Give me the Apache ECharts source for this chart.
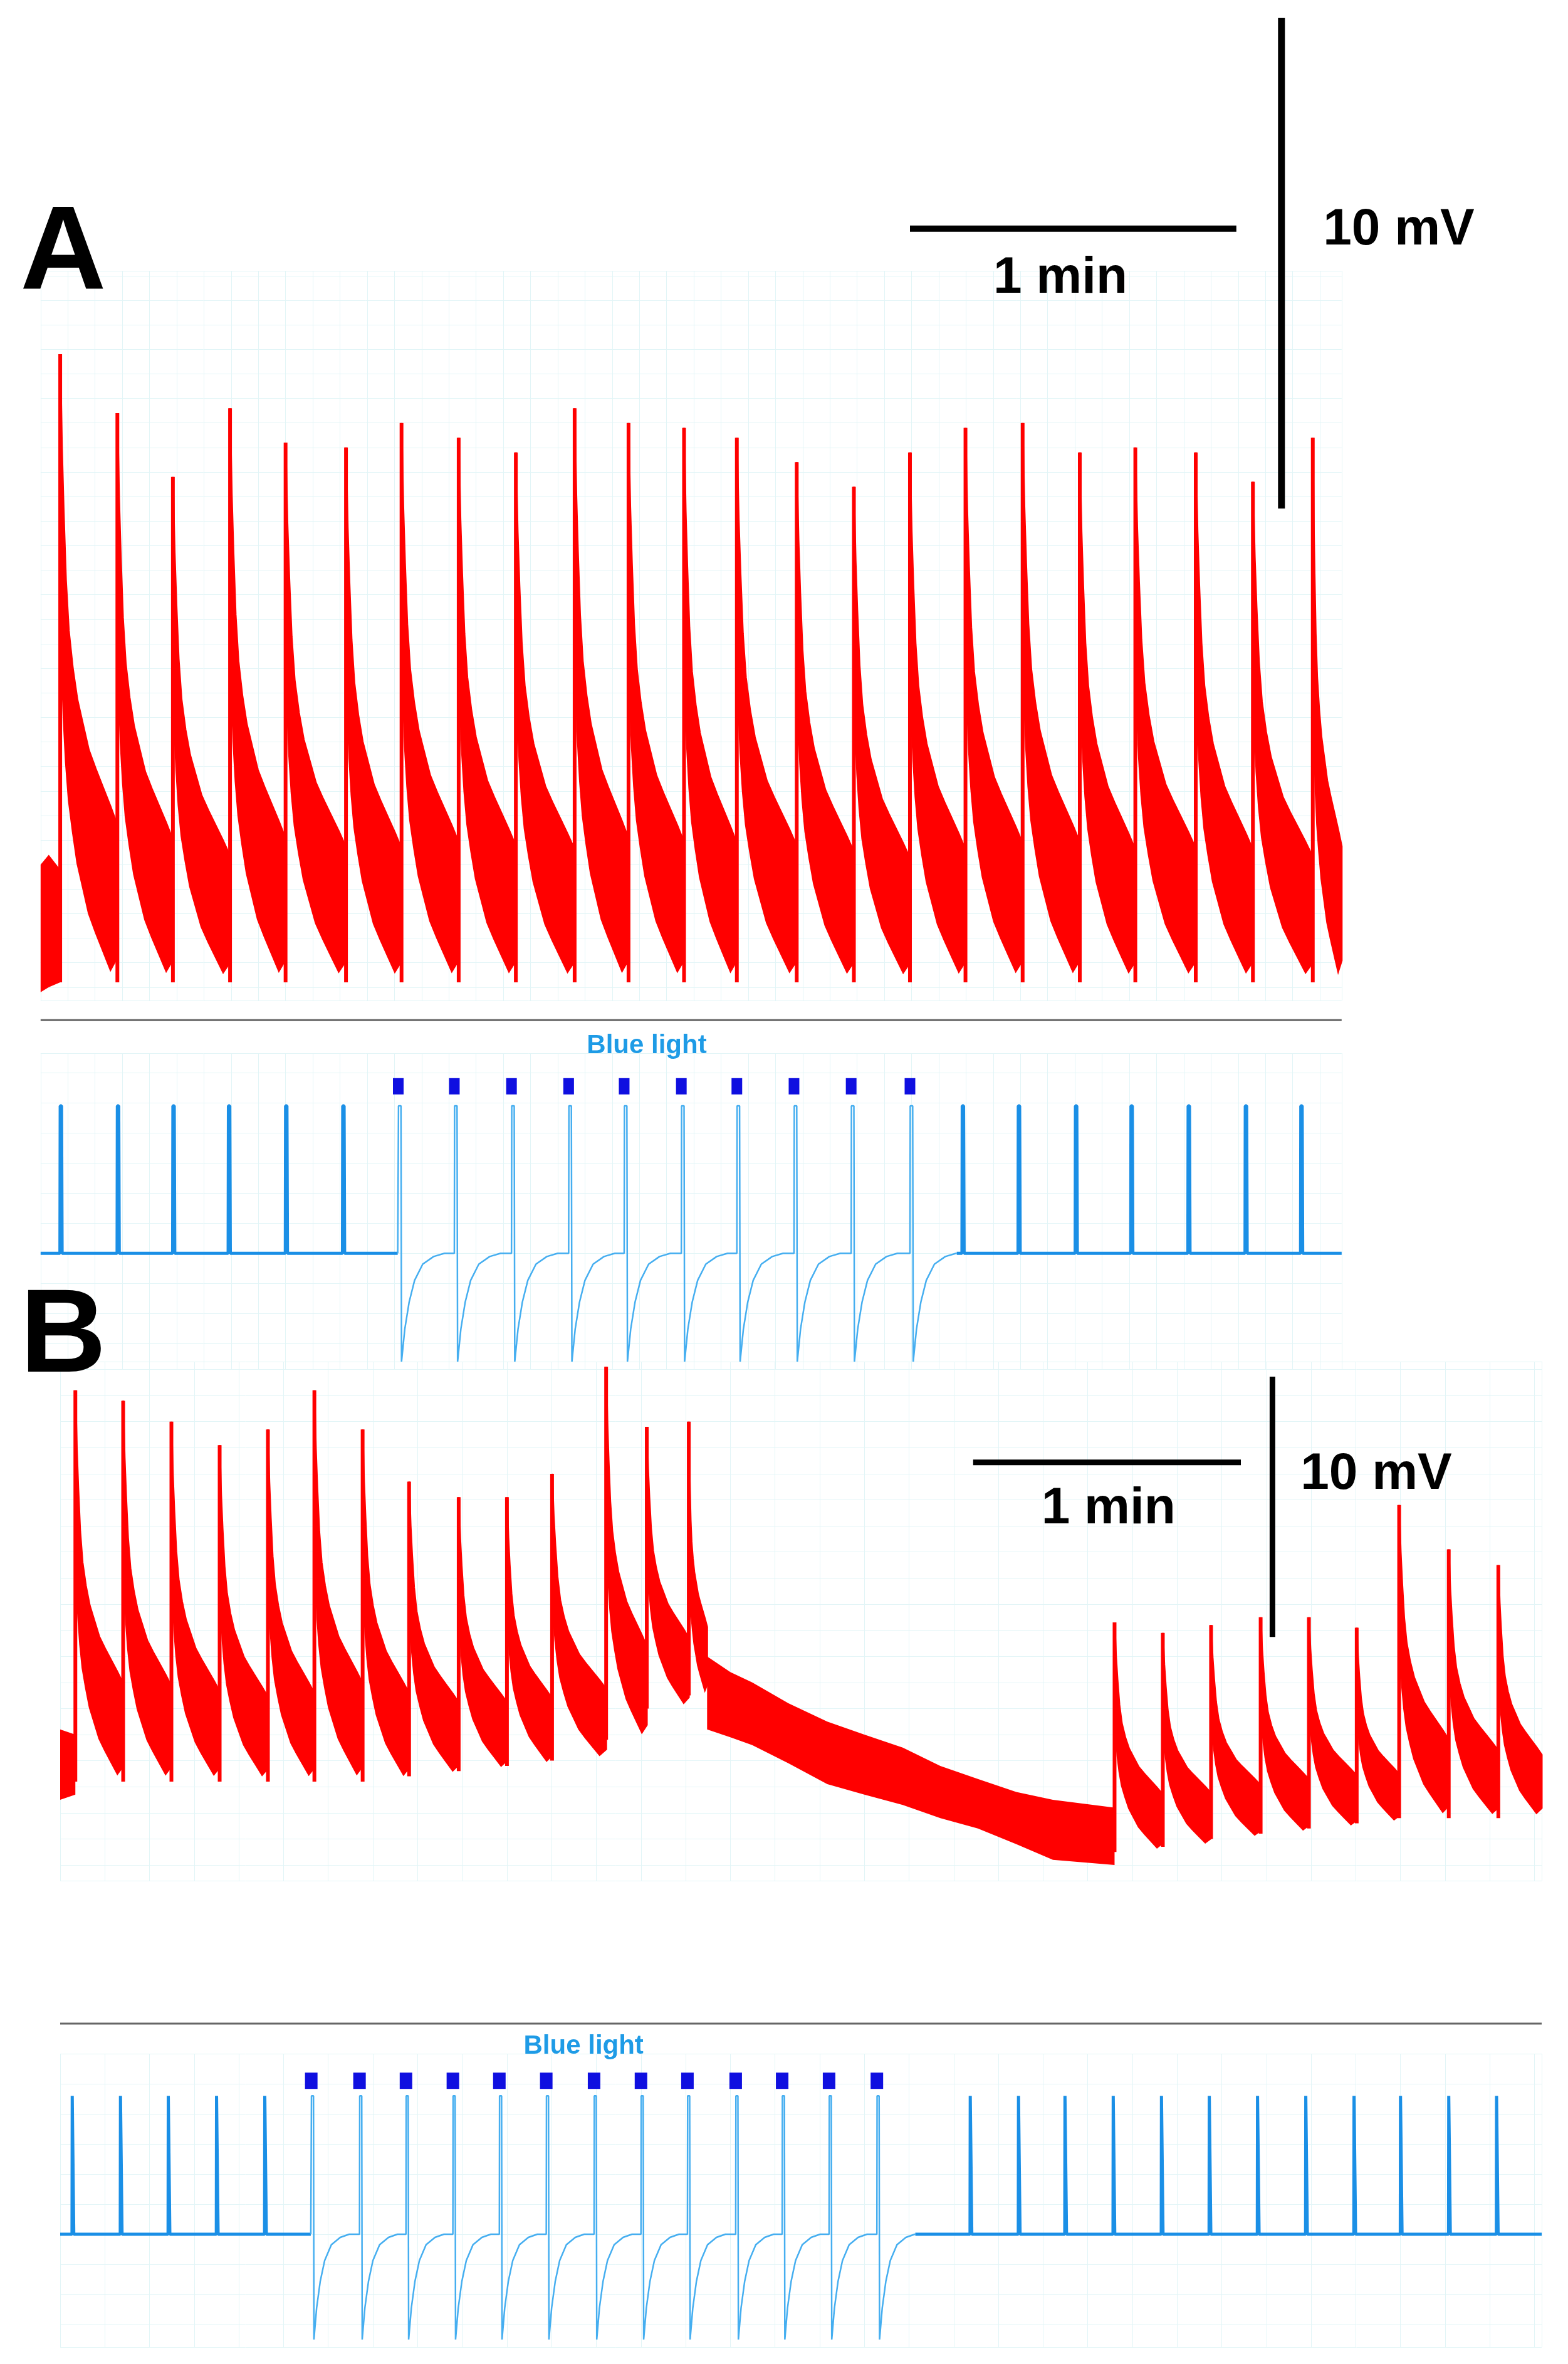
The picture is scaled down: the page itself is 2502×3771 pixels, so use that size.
<!DOCTYPE html>
<html><head><meta charset="utf-8">
<script src="https://cdn.jsdelivr.net/npm/echarts@6/dist/echarts.min.js"></script>
<style>html,body{margin:0;padding:0;background:#fff}#c{width:2502px;height:3771px}</style>
</head><body><div id="c"></div>
<script>
// ---------- Panel A data (time s, membrane mV relative) ----------
const A_END = 239;
const A_burstT = [3.6,14.1,24.3,34.8,45.0,56.1,66.3,76.8,87.3,98.1,108.0,118.2,127.9,138.9,149.4,159.7,169.9,180.4,190.9,201.1,212.2,222.7,233.7];
const A_burstPeak = [12.4,11.2,9.9,11.3,10.6,10.5,11.0,10.7,10.4,11.3,11.0,10.9,10.7,10.2,9.7,10.4,10.9,11.0,10.4,10.5,10.4,9.8,10.7];
const A_base = -0.4;
const A_preBand = [[0,2.0,-0.6],[1.5,2.2,-0.5],[3.6,1.9,-0.4]];
const A_spikePre = [3.6,14.1,24.3,34.5,45.0,55.5];
const A_spikeLight = [65.7,76.0,86.5,97.0,107.2,117.7,127.9,138.4,148.9,159.7];
const A_spikePost = [169.3,179.6,190.1,200.3,210.8,221.3,231.5];
// ---------- Panel B data ----------
const B_END = 331.6;
const B_burstT = [3.4,14.1,24.9,35.7,46.5,56.9,67.7,78.1,89.2,100.0,110.1,122.2,131.3,140.7];
const B_burstPeak = [14.2,13.8,13.0,12.1,12.7,14.2,12.7,10.7,10.1,10.1,11.0,15.1,12.8,13.0];
const B_burstBase = [-0.8,-0.8,-0.8,-0.8,-0.8,-0.8,-0.8,-0.6,-0.4,-0.2,0,0.8,2.0,2.5];
const B_drift = [[144.8,4.0,1.2],[150,3.4,0.9],[154.9,3.0,0.6],[163,2.2,-0.1],[171.7,1.5,-0.9],[180,1.0,-1.3],[188.6,0.5,-1.7],[197,-0.2,-2.2],[205.4,-0.7,-2.6],[214,-1.2,-3.2],[222.2,-1.5,-3.8],[236.0,-1.8,-4.0]];
const B_preBand = [[0,1.2,-1.5],[3.4,1.0,-1.3]];
const B_late = [236.0,246.8,257.6,268.7,279.5,290.2,299.7,310.8,321.9];
const B_latePeak = [5.3,4.9,5.2,5.5,5.5,5.1,9.8,8.1,7.5];
const B_lateBase = [-3.5,-3.3,-3.0,-2.8,-2.6,-2.4,-2.2,-2.2,-2.2];
const B_spikePre = [2.7,13.5,24.2,35.0,45.8];
const B_spikeLight = [56.2,67.0,77.4,87.9,98.3,108.8,119.5,130.0,140.4,151.2,161.6,172.1,182.8];
const B_spikePost = [203.7,214.5,224.9,235.7,246.5,257.2,268.0,278.8,289.6,300.0,310.8,321.5];
// burst envelope template (fraction of interval, fraction of amplitude)
const TPL_F = [0,0.01,0.03,0.06,0.1,0.15,0.22,0.3,0.4,0.5,0.62,0.75,0.88,1.0];
const TPL_U = [1.0,0.95,0.85,0.75,0.64,0.56,0.5,0.45,0.41,0.37,0.34,0.31,0.28,0.25];
const TPL_L = [0.1,0.55,0.5,0.42,0.35,0.29,0.24,0.19,0.15,0.11,0.08,0.05,0.02,0.04];
// light-evoked response template (s offset, value)
const LIGHT_T = [0,0.05,0.5,0.6,1.2,2.0,3.0,4.5,6.5,8.5];
const LIGHT_V = [0,1,1,-1,-0.7,-0.45,-0.25,-0.1,-0.03,0];

function burstItems(ts, peaks, bases, end){
  return ts.map((t,i)=>[t, i<ts.length-1?ts[i+1]:end, Array.isArray(bases)?bases[i]:bases, peaks[i]]);
}
function bandSeries(band, xi, yi){
  return {type:'custom', xAxisIndex:xi, yAxisIndex:yi, data:band, silent:true,
    renderItem:function(p, api){
      if(p.dataIndex!==0) return;
      const pts=[]; band.forEach(d=>pts.push(api.coord([d[0],d[1]])));
      for(let i=band.length-1;i>=0;i--) pts.push(api.coord([band[i][0],band[i][2]]));
      return {type:'polygon', shape:{points:pts}, style:{fill:'#ff0000'}};
    }};
}
function burstSeries(items, xi, yi){
  return {type:'custom', xAxisIndex:xi, yAxisIndex:yi, data:items, silent:true,
    encode:{x:[0,1], y:[2,3]},
    renderItem:function(p, api){
      const t0=api.value(0), t1=api.value(1), b=api.value(2), pk=api.value(3);
      const pts=[];
      for(let i=0;i<TPL_F.length;i++) pts.push(api.coord([t0+TPL_F[i]*(t1-t0), b+TPL_U[i]*(pk-b)]));
      for(let i=TPL_F.length-1;i>=0;i--) pts.push(api.coord([t0+TPL_F[i]*(t1-t0), b+TPL_L[i]*(pk-b)]));
      return {type:'group', children:[
        {type:'polygon', shape:{points:pts}, style:{fill:'#ff0000', stroke:'#ff0000', lineWidth:3}},
        {type:'polyline', shape:{points:[api.coord([t0,b]),api.coord([t0,pk])]}, style:{stroke:'#ff0000', lineWidth:6}}
      ]};
    }};
}
function normalLine(spikes, t0, t1, up){
  const d=[[t0,0]];
  spikes.forEach(t=>{d.push([t-0.05,0],[t,up],[t+0.25,up],[t+0.35,0]);});
  d.push([t1,0]); return d;
}
function lightLine(spikes, t0, t1, up, down){
  const d=[[t0,0]];
  spikes.forEach(t=>{LIGHT_T.forEach((o,i)=>d.push([t+o, LIGHT_V[i]>0?LIGHT_V[i]*up:LIGHT_V[i]*down]));});
  d.push([t1,0]); return d;
}
const S = 2.4; // display->actual
const gridCol = '#e2f5f7';
function ax(min,max,n){return {type:'value',min:min,max:max,splitNumber:n,axisLine:{show:false},axisTick:{show:false},axisLabel:{show:false},splitLine:{show:true,lineStyle:{color:gridCol,width:1}}};}

const grids=[
  {left:27*S, width:865*S, top:180*S, height:485*S},
  {left:27*S, width:865*S, top:700*S, height:210*S},
  {left:40*S, width:985*S, top:905*S, height:345*S},
  {left:40*S, width:985*S, top:1365*S, height:195*S}
];
const xAxes=[ax(0,A_END,40),ax(0,A_END,40),ax(0,B_END,45),ax(0,B_END,45)];
const yAxes=[ax(-0.77,14.1,22),ax(-7.7,13.3,9),ax(-4.6,15.3,15),ax(-7.5,12.0,9)];

const aSplit1 = A_spikeLight[0]-0.1, aSplit2 = A_spikeLight[A_spikeLight.length-1]+8.6;
const bSplit1 = B_spikeLight[0]-0.1, bSplit2 = B_spikeLight[B_spikeLight.length-1]+8.6;
const series=[
  bandSeries(A_preBand,0,0),
  burstSeries(burstItems(A_burstT,A_burstPeak,A_base,A_END),0,0),
  bandSeries(B_preBand,2,2),
  burstSeries(burstItems(B_burstT,B_burstPeak,B_burstBase,144.8),2,2),
  bandSeries(B_drift,2,2),
  burstSeries(burstItems(B_late,B_latePeak,B_lateBase,B_END),2,2),
  {type:'line',xAxisIndex:1,yAxisIndex:1,data:normalLine(A_spikePre,0,aSplit1,9.8),showSymbol:false,lineStyle:{color:'#1a8fe6',width:5},silent:true},
  {type:'line',xAxisIndex:1,yAxisIndex:1,data:lightLine(A_spikeLight,aSplit1,aSplit2,9.8,7.2),showSymbol:false,lineStyle:{color:'#45aef0',width:2.5},silent:true},
  {type:'line',xAxisIndex:1,yAxisIndex:1,data:normalLine(A_spikePost,aSplit2,A_END,9.8),showSymbol:false,lineStyle:{color:'#1a8fe6',width:5},silent:true},
  {type:'scatter',xAxisIndex:1,yAxisIndex:1,data:A_spikeLight.map(t=>[t,11.1]),symbol:'rect',symbolSize:[17,26],itemStyle:{color:'#0f0fe0',opacity:1},silent:true},
  {type:'line',xAxisIndex:3,yAxisIndex:3,data:normalLine(B_spikePre,0,bSplit1,9.2),showSymbol:false,lineStyle:{color:'#1a8fe6',width:5},silent:true},
  {type:'line',xAxisIndex:3,yAxisIndex:3,data:lightLine(B_spikeLight,bSplit1,bSplit2,9.2,7.0),showSymbol:false,lineStyle:{color:'#45aef0',width:2.5},silent:true},
  {type:'line',xAxisIndex:3,yAxisIndex:3,data:normalLine(B_spikePost,bSplit2,B_END,9.2),showSymbol:false,lineStyle:{color:'#1a8fe6',width:5},silent:true},
  {type:'scatter',xAxisIndex:3,yAxisIndex:3,data:B_spikeLight.map(t=>[t,10.2]),symbol:'rect',symbolSize:[20,26],itemStyle:{color:'#0f0fe0',opacity:1},silent:true}
];
const txt=(x,y,s,size,color)=>({type:'text',z:100,x:x*S,y:y*S,style:{text:s,font:'bold '+size+'px "Liberation Sans", Arial, sans-serif',fill:color,textAlign:'center',textVerticalAlign:'middle'}});
const ln=(x1,y1,x2,y2,w,c)=>({type:'line',z:100,shape:{x1:x1*S,y1:y1*S,x2:x2*S,y2:y2*S},style:{stroke:c,lineWidth:w}});
const graphic=[
  txt(42,170,'A',190,'#000'), txt(42,890,'B',190,'#000'),
  ln(605,152,822,152,10,'#000'), ln(852,12,852,338,11,'#000'),
  txt(705,185,'1 min',82,'#000'), txt(930,153,'10 mV',82,'#000'),
  ln(647,972,825,972,9,'#000'), ln(846,915,846,1088,9,'#000'),
  txt(737,1003,'1 min',82,'#000'), txt(915,980,'10 mV',82,'#000'),
  ln(27,678,892,678,3,'#666'), ln(40,1345,1025,1345,3,'#666'),
  txt(430,695,'Blue light',42,'#1e9be6'), txt(388,1360,'Blue light',42,'#1e9be6')
];
const chart=echarts.init(document.getElementById('c'),null,{renderer:'canvas',width:2502,height:3771});
chart.setOption({animation:false,backgroundColor:'#fff',grid:grids,xAxis:xAxes.map((a,i)=>Object.assign(a,{gridIndex:i})),yAxis:yAxes.map((a,i)=>Object.assign(a,{gridIndex:i})),series:series,graphic:graphic});
</script></body></html>
